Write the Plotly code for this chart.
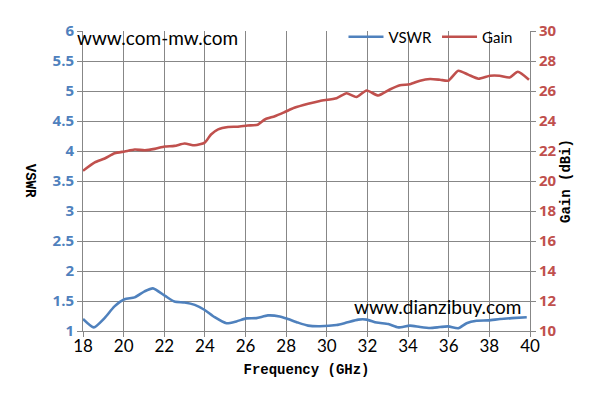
import plotly.graph_objects as go

freq_gain = [18.0, 18.58, 19.07, 19.56, 20.05, 20.55, 21.04, 21.53, 22.02, 22.5, 23.0, 23.5,
             23.99, 24.3, 24.65, 25.14, 25.6, 26.1, 26.6, 26.95, 27.44, 27.93, 28.4, 29.08,
             29.66, 30.48, 30.97, 31.46, 31.96, 32.53, 33.1, 33.6, 34.09, 34.59, 35.08, 35.57,
             35.98, 36.47, 36.96, 37.46, 38.03, 38.5, 39.0, 39.4, 39.95]
gain = [20.68, 21.24, 21.5, 21.85, 21.97, 22.1, 22.05, 22.14, 22.3, 22.34, 22.5, 22.38,
        22.56, 23.1, 23.44, 23.6, 23.62, 23.7, 23.75, 24.1, 24.32, 24.6, 24.88, 25.15,
        25.34, 25.52, 25.85, 25.6, 26.03, 25.7, 26.1, 26.38, 26.45, 26.69, 26.8, 26.75,
        26.69, 27.35, 27.09, 26.82, 27.02, 27.02, 26.9, 27.28, 26.75]

freq_vswr = [18.0, 18.53, 19.06, 19.55, 20.04, 20.54, 21.03, 21.44, 22.02, 22.5, 23.0, 23.5,
             23.99, 24.48, 25.06, 25.55, 26.04, 26.53, 27.1, 27.68, 28.09, 28.58, 29.08,
             29.66, 30.48, 30.97, 31.55, 31.96, 32.45, 33.03, 33.52, 34.09, 34.59, 35.08,
             35.57, 35.98, 36.47, 36.88, 37.37, 37.95, 38.52, 39.1, 39.84]
vswr = [1.2, 1.06, 1.215, 1.41, 1.53, 1.56, 1.66, 1.71, 1.59, 1.49, 1.475, 1.435,
        1.35, 1.23, 1.13, 1.16, 1.21, 1.215, 1.26, 1.243, 1.2, 1.14, 1.09,
        1.08, 1.1, 1.14, 1.19, 1.19, 1.14, 1.115, 1.06, 1.09, 1.066, 1.05,
        1.066, 1.077, 1.045, 1.13, 1.17, 1.177, 1.2, 1.215, 1.23]

x_ticks = list(range(18, 41, 2))
vswr_ticks = [1, 1.5, 2, 2.5, 3, 3.5, 4, 4.5, 5, 5.5, 6]
vswr_labels = ["1", "1.5", "2", "2.5", "3", "3.5", "4", "4.5", "5", "5.5", "6"]
gain_ticks = list(range(10, 31, 2))
gain_labels = [str(v) for v in gain_ticks]

BLUE = "#4F81BD"
RED = "#C0504D"
GRID = "#878787"
TICKFONT = "Lato"
BOLDFONT = "Open Sans"
TITLEFONT = "Liberation Mono"

fig = go.Figure()
fig.add_trace(go.Scatter(x=freq_vswr, y=vswr, name="VSWR", mode="lines",
                         line=dict(color=BLUE, width=2.6, shape="spline", smoothing=0.6)))
fig.add_trace(go.Scatter(x=freq_gain, y=gain, name="Gain", mode="lines", yaxis="y2",
                         line=dict(color=RED, width=2.6, shape="spline", smoothing=0.6)))

fig.update_layout(
    width=595, height=404,
    margin=dict(l=75, r=73, t=21, b=81),
    paper_bgcolor="white", plot_bgcolor="white",
    showlegend=True,
    legend=dict(orientation="h", x=0.972, y=1.035, xanchor="right", yanchor="top",
                font=dict(family=TICKFONT, size=15, color="black"),
                bgcolor="rgba(255,255,255,0)", itemwidth=35, tracegroupgap=0),
    xaxis=dict(range=[18, 40], tickvals=x_ticks, showgrid=True, gridcolor=GRID, gridwidth=1,
               showline=True, linecolor=GRID, linewidth=1, ticks="outside", ticklen=5,
               tickcolor=GRID, tickfont=dict(family=TICKFONT, size=17, color="black"),
               ticklabelstandoff=-5,
               zeroline=False, mirror=False,
               title=dict(text="Frequency (GHz)", font=dict(family=TITLEFONT, size=14, color="black",
                                                            weight="bold"), standoff=8)),
    yaxis=dict(range=[1, 6], tickvals=vswr_ticks, ticktext=["<b>%s</b>" % t for t in vswr_labels],
               showgrid=True, gridcolor=GRID, gridwidth=1,
               showline=True, linecolor=GRID, linewidth=1, ticks="outside", ticklen=5,
               tickcolor=GRID, zeroline=False,
               tickfont=dict(family=BOLDFONT, size=15, color=BLUE)),
    yaxis2=dict(range=[10, 30], tickvals=gain_ticks, ticktext=["<b>%s</b>" % t for t in gain_labels],
                overlaying="y", side="right",
                showgrid=False, showline=True, linecolor=GRID, linewidth=1, ticks="outside",
                ticklen=5, tickcolor=GRID, zeroline=False,
                tickfont=dict(family=BOLDFONT, size=15, color=RED),
                title=dict(text="Gain (dBi)", font=dict(family=TITLEFONT, size=14, color="black",
                                                       weight="bold"), standoff=4)),
)

fig.add_annotation(text="<b>VSWR</b>", textangle=90, xref="paper", yref="paper", x=-0.118, y=0.5,
                   showarrow=False, xanchor="center", yanchor="middle",
                   font=dict(family=TITLEFONT, size=14, color="black"))
fig.add_annotation(text="www.com-mw.com", xref="paper", yref="paper", x=-0.018, y=0.977,
                   showarrow=False, xanchor="left", yanchor="middle",
                   font=dict(family=TICKFONT, size=19, color="black"))
fig.add_annotation(text="www.dianzibuy.com", xref="paper", yref="paper", x=0.985, y=0.083,
                   showarrow=False, xanchor="right", yanchor="middle",
                   font=dict(family=TICKFONT, size=19, color="black"))

fig.write_html("out.html")
